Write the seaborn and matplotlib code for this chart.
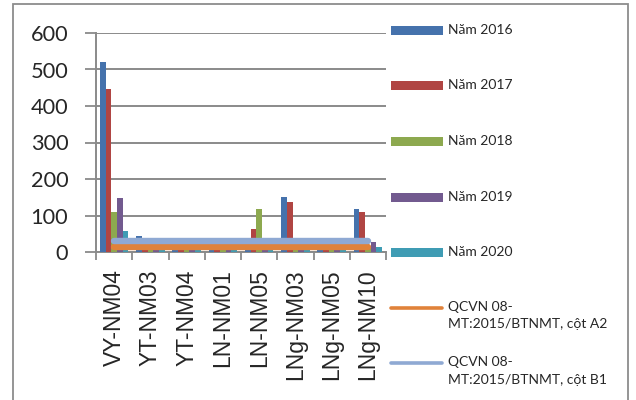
import matplotlib
matplotlib.use("Agg")
import matplotlib.pyplot as plt
from matplotlib.patches import Rectangle
from matplotlib.lines import Line2D
import numpy as np
import pandas as pd
import seaborn as sns

# Monitoring stations (x categories)
stations = ["VY-NM04", "YT-NM03", "YT-NM04", "LN-NM01",
            "LN-NM05", "LNg-NM03", "LNg-NM05", "LNg-NM10"]

# Measured values per year
years = ["Năm 2016", "Năm 2017", "Năm 2018", "Năm 2019", "Năm 2020"]
y2016 = [520, 44, 12, 14, 18, 151, 10, 117]
y2017 = [446, 20, 14, 38, 62, 137, 12, 110]
y2018 = [110, 16, 10, 12, 117, 14, 8, 10]
y2019 = [148, 18, 12, 16, 14, 12, 10, 28]
y2020 = [57, 14, 10, 12, 12, 10, 8, 13]

# Regulation limits (QCVN 08-MT:2015/BTNMT)
limit_labels = ["QCVN 08-\nMT:2015/BTNMT, cột A2",
                "QCVN 08-\nMT:2015/BTNMT, cột B1"]
limit_a2 = [15] * len(stations)
limit_b1 = [30] * len(stations)

y_ticks = [0, 100, 200, 300, 400, 500, 600]

bar_colors = ["#4572AC", "#B04543", "#8DA94F", "#725A8F", "#3F9CB4"]
line_colors = ["#E0823A", "#8FA9D3"]

sns.set_theme(style="white")
plt.rcParams["font.family"] = ["Lato", "DejaVu Sans"]

df = pd.DataFrame({
    "station": np.tile(stations, len(years)),
    "year": np.repeat(years, len(stations)),
    "value": np.concatenate([y2016, y2017, y2018, y2019, y2020]),
})

fig = plt.figure(figsize=(6.36, 4.0), dpi=100)
ax = fig.add_axes([96 / 636, 1 - 252 / 400, 290 / 636, 219 / 400])

sns.barplot(data=df, x="station", y="value", hue="year", order=stations,
            hue_order=years, palette=bar_colors, width=0.785, gap=0,
            saturation=1, errorbar=None, legend=False, ax=ax,
            edgecolor="none", linewidth=0, zorder=3)

xpos = np.arange(len(stations))
ax.plot(xpos, limit_a2, color=line_colors[0], lw=4.6,
        solid_capstyle="round", zorder=4)
ax.plot(xpos, limit_b1, color=line_colors[1], lw=4.6,
        solid_capstyle="round", zorder=5)

ax.set_xlim(-0.5, len(stations) - 0.5)
ax.set_ylim(0, 600)
ax.set_yticks(y_ticks)
ax.set_yticklabels([str(t) for t in y_ticks], fontsize=15.7,
                   family=["Lato", "DejaVu Sans"])
ax.yaxis.grid(True, color="#8a8a8a", lw=1.4, zorder=0)
ax.set_axisbelow(True)

ax.set_xticks(np.arange(-0.5, len(stations), 1.0))
ax.set_xticklabels([])
ax.tick_params(axis="x", direction="out", length=6, width=1.3,
               color="#8a8a8a", bottom=True)
ax.tick_params(axis="y", direction="out", length=8, width=1.3,
               color="#8a8a8a", left=True, pad=12)
for i, s in enumerate(stations):
    ax.text(i, -0.08, s, transform=ax.get_xaxis_transform(),
            rotation=90, ha="center", va="top", fontsize=16.5,
            family=["Liberation Sans", "DejaVu Sans"])

for side in ["top", "right"]:
    ax.spines[side].set_visible(False)
for side in ["left", "bottom"]:
    ax.spines[side].set_color("#8a8a8a")
    ax.spines[side].set_linewidth(1.4)
ax.set_xlabel("")
ax.set_ylabel("")

# Outer chart frame
fig.add_artist(Rectangle((13 / 636, -0.02), 615 / 636, 1 - 4 / 400 + 0.02,
                         transform=fig.transFigure, fill=False,
                         edgecolor="#8c8c8c", lw=1.3))

# Legend
W, H = 636, 400
patch_x0, patch_x1 = 391, 443
text_x = 448
for lbl, col, yc in zip(years, bar_colors, [30, 85, 141, 197, 252]):
    fig.add_artist(Rectangle((patch_x0 / W, 1 - (yc + 4.5) / H),
                             (patch_x1 - patch_x0) / W, 9 / H,
                             transform=fig.transFigure, color=col, lw=0))
    fig.text(text_x / W, 1 - yc / H, lbl, ha="left", va="center",
             fontsize=10)
for lbl, col, yc in zip(limit_labels, line_colors, [308, 363]):
    fig.add_artist(Line2D([391 / W, 442 / W], [1 - yc / H, 1 - yc / H],
                          transform=fig.transFigure, color=col, lw=2.6,
                          solid_capstyle="round"))
    fig.text(text_x / W, 1 - (yc - 7) / H, lbl, ha="left", va="top",
             fontsize=10, linespacing=1.55)

fig.savefig("out.png", dpi=100)
